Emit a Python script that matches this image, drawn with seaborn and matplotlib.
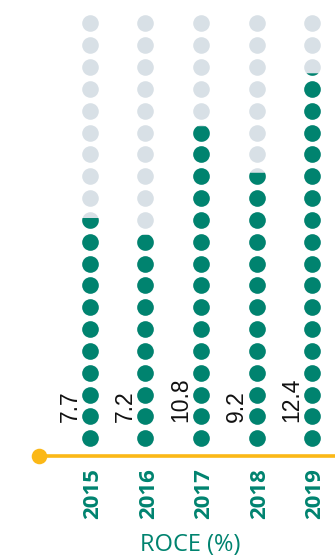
import numpy as np
import pandas as pd
import matplotlib
matplotlib.use("Agg")
import matplotlib.pyplot as plt
from matplotlib.path import Path
import seaborn as sns

# ROCE (%) by year
years = ["2015", "2016", "2017", "2018", "2019"]
roce = [7.7, 7.2, 10.8, 9.2, 12.4]

# dot scale: each column has 20 dots, each dot worth this many points
n_dots = 20
per_dot = 0.723

teal = "#00836f"
grey = "#d8e0e6"
gold = "#fbb817"

sns.set_theme(style="white")
plt.rcParams["font.family"] = ["Liberation Sans", "DejaVu Sans"]

fig = plt.figure(figsize=(3.35, 5.56), dpi=100)
ax = fig.add_axes([0, 0, 1, 1])
ax.set_xlim(-1.6216, 4.4144)
ax.set_ylim(-5.389, 20.069)
ax.axis("off")

# one row per dot position
rows = []
for i, (yr, v) in enumerate(zip(years, roce)):
    level = v / per_dot
    full = int(np.floor(level))
    frac = level - full
    for j in range(n_dots):
        if j < full:
            state = "full"
        elif j == full and frac > 0.02:
            state = "partial"
        else:
            state = "empty"
        rows.append({"col": i, "level": j, "state": state,
                     "frac": frac if state == "partial" else 0.0})
dots = pd.DataFrame(rows)

size = 16.6 * 0.72  # marker diameter in points
sns.scatterplot(data=dots, x="col", y="level", color=grey, s=size ** 2,
                linewidth=0, legend=False, ax=ax, zorder=2)
sns.scatterplot(data=dots[dots.state == "full"], x="col", y="level",
                color=teal, s=size ** 2, linewidth=0, legend=False,
                ax=ax, zorder=3)


def segment_marker(f):
    """Circle segment filled from the bottom up to fraction f of the height."""
    yc = -1 + 2 * f
    t0 = np.arcsin(np.clip(yc, -1, 1))
    t = np.linspace(np.pi - t0, 2 * np.pi + t0, 80)
    verts = np.column_stack([np.cos(t), np.sin(t)])
    verts = np.vstack([verts, verts[:1]])
    codes = [Path.MOVETO] + [Path.LINETO] * (len(verts) - 2) + [Path.CLOSEPOLY]
    return Path(verts, codes)


for _, r in dots[dots.state == "partial"].iterrows():
    ax.scatter([r["col"]], [r["level"]], marker=segment_marker(r["frac"]),
               s=size ** 2, color=teal, linewidths=0, zorder=4)

# value labels beside each column
for i, v in enumerate(roce):
    ax.annotate(f"{v}", xy=(i, 0), xytext=(-14.4, 11.5), textcoords="offset points",
                rotation=90, ha="center", va="bottom", fontsize=16.5,
                color="#111111", family=["Liberation Sans", "DejaVu Sans"])

# baseline with a dot at its start
base_y = -0.81
start_x = -0.913
x0, x1 = ax.get_xlim()
ax.plot([start_x, x1], [base_y, base_y], color=gold, lw=2.6,
        solid_capstyle="butt", zorder=1)
ax.plot([start_x], [base_y], marker="o", ms=11.2, color=gold,
        markeredgewidth=0, zorder=1)

# year labels
for i, yr in enumerate(years):
    ax.annotate(yr, xy=(i, 0), xytext=(2.0, -21.4), textcoords="offset points",
                rotation=90, ha="center", va="top", fontsize=16,
                fontweight="bold", color=teal,
                family=["Open Sans", "DejaVu Sans"])

fig.text(190 / 335, 5 / 556, "ROCE (%)", ha="center", va="baseline",
         fontsize=17, color=teal, family=["Open Sans", "DejaVu Sans"])

fig.savefig("out.png", dpi=100)
